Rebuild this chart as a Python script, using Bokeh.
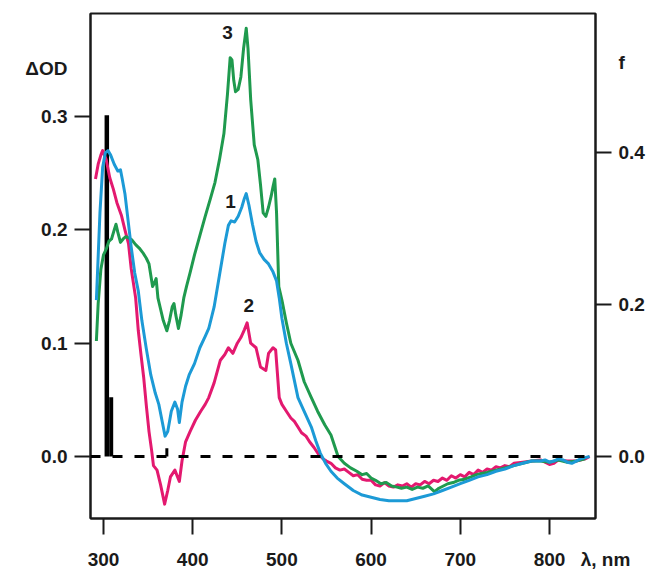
from bokeh.plotting import figure
from bokeh.models import Range1d, LinearAxis, Span, Label, FixedTicker
from bokeh.embed import file_html
from bokeh.resources import INLINE

# ---- data ----
wl_1 = [292, 296, 299, 302, 305, 308, 312, 316, 319, 321, 324, 327, 331, 335, 339, 343, 348, 353, 358,
        362, 366, 369, 372, 376, 380, 383, 385, 388, 392, 396, 402, 408, 414, 418, 424, 430, 436, 440,
        443, 447, 451, 455, 458, 460, 463, 467, 471, 475, 480, 485, 490, 494, 497, 500, 505, 510, 518,
        526, 533, 538, 543, 549, 555, 562, 570, 580, 590, 600, 610, 620, 630, 640, 650, 660, 670, 680,
        690, 700, 710, 720, 730, 740, 750, 760, 770, 780, 790, 795, 800, 805, 810, 815, 820, 825, 830,
        835, 840, 845]
od_1 = [0.138, 0.215, 0.255, 0.268, 0.270, 0.266, 0.258, 0.252, 0.253, 0.245, 0.232, 0.212, 0.185,
        0.162, 0.146, 0.120, 0.095, 0.072, 0.056, 0.046, 0.030, 0.018, 0.022, 0.040, 0.048, 0.042,
        0.030, 0.048, 0.062, 0.072, 0.082, 0.096, 0.106, 0.113, 0.132, 0.160, 0.188, 0.204, 0.208,
        0.207, 0.212, 0.220, 0.228, 0.232, 0.222, 0.205, 0.190, 0.180, 0.174, 0.170, 0.163, 0.155,
        0.140, 0.122, 0.100, 0.082, 0.052, 0.038, 0.026, 0.014, 0.003, -0.006, -0.013, -0.019, -0.024,
        -0.030, -0.034, -0.036, -0.038, -0.039, -0.039, -0.039, -0.037, -0.035, -0.033, -0.030, -0.027,
        -0.024, -0.021, -0.018, -0.016, -0.013, -0.011, -0.008, -0.006, -0.004, -0.004, -0.003, -0.005,
        -0.004, -0.002, -0.003, -0.005, -0.006, -0.004, -0.002, -0.001, 0.000]

wl_2 = [291, 294, 297, 299, 303, 307, 311, 315, 320, 324, 328, 331, 336, 339, 342, 345, 348, 351, 354,
        356, 360, 364, 368.5, 372, 375, 380, 385, 388, 392, 397, 403, 409, 414, 418, 424, 431, 436, 440,
        445, 450, 454, 458, 461, 465, 471, 476, 482, 485, 490, 493, 497, 500, 505, 510, 514, 518, 522,
        527, 531, 536, 541, 546, 550, 555, 560, 565, 570, 575, 580, 585, 590, 595, 600, 605, 610, 615,
        620, 625, 630, 635, 640, 645, 650, 655, 660, 665, 670, 675, 680, 685, 690, 695, 700, 705, 710,
        715, 720, 725, 730, 735, 740, 745, 750, 755, 760, 770, 780, 790, 800, 805, 810, 820, 830, 840,
        845]
od_2 = [0.245, 0.258, 0.266, 0.270, 0.262, 0.246, 0.236, 0.224, 0.213, 0.200, 0.188, 0.166, 0.140,
        0.111, 0.090, 0.070, 0.045, 0.022, 0.005, -0.008, -0.012, -0.025, -0.042, -0.030, -0.018,
        -0.012, -0.022, -0.004, 0.013, 0.022, 0.032, 0.040, 0.046, 0.052, 0.065, 0.085, 0.090, 0.096,
        0.091, 0.100, 0.105, 0.112, 0.118, 0.100, 0.096, 0.079, 0.076, 0.091, 0.096, 0.094, 0.052,
        0.046, 0.040, 0.034, 0.031, 0.026, 0.021, 0.018, 0.013, 0.008, 0.002, -0.002, -0.004, -0.006,
        -0.010, -0.012, -0.011, -0.014, -0.017, -0.016, -0.020, -0.021, -0.021, -0.025, -0.026, -0.023,
        -0.026, -0.027, -0.025, -0.026, -0.024, -0.027, -0.024, -0.025, -0.022, -0.024, -0.021, -0.022,
        -0.019, -0.021, -0.017, -0.019, -0.016, -0.018, -0.014, -0.016, -0.012, -0.014, -0.011, -0.012,
        -0.009, -0.010, -0.008, -0.009, -0.006, -0.005, -0.004, -0.003, -0.007, -0.006, -0.003, -0.004,
        -0.004, -0.002, 0.000]

wl_3 = [292, 294, 297, 300, 303, 306, 309, 312, 314, 316, 319, 322, 325, 328, 332, 336, 340, 344, 348,
        351, 353, 355, 357, 359, 361, 364, 367, 371, 374, 377, 379, 381, 384, 387, 390, 393, 397, 402,
        408, 414, 420, 425, 430, 435, 439, 442, 444, 446, 448, 451, 454, 457, 460, 462, 465, 469, 473,
        476, 479, 482, 485, 488, 490, 492, 494, 496.5, 500, 505, 510, 518, 525, 533, 540, 548, 555, 563,
        570, 577, 584, 590, 595, 600, 605, 611, 617, 623, 629, 634, 640, 646, 652, 658, 664, 671, 676,
        681, 686, 692, 698, 705, 712, 718, 724, 730, 740, 750, 760, 770, 780, 790, 800, 810, 820, 830,
        840]
od_3 = [0.102, 0.135, 0.165, 0.178, 0.183, 0.190, 0.192, 0.200, 0.205, 0.198, 0.189, 0.192, 0.194,
        0.193, 0.191, 0.187, 0.184, 0.180, 0.175, 0.170, 0.160, 0.150, 0.153, 0.157, 0.140, 0.130,
        0.120, 0.111, 0.120, 0.132, 0.135, 0.125, 0.113, 0.125, 0.140, 0.150, 0.162, 0.178, 0.195,
        0.212, 0.228, 0.242, 0.262, 0.285, 0.320, 0.352, 0.350, 0.332, 0.322, 0.324, 0.335, 0.360,
        0.378, 0.360, 0.315, 0.275, 0.262, 0.240, 0.215, 0.212, 0.220, 0.230, 0.238, 0.245, 0.215,
        0.150, 0.138, 0.118, 0.100, 0.085, 0.066, 0.052, 0.040, 0.028, 0.019, 0.000, -0.006, -0.010,
        -0.013, -0.016, -0.015, -0.019, -0.021, -0.024, -0.023, -0.026, -0.027, -0.028, -0.027, -0.029,
        -0.027, -0.028, -0.026, -0.031, -0.028, -0.026, -0.024, -0.023, -0.021, -0.020, -0.018, -0.016,
        -0.015, -0.014, -0.012, -0.010, -0.008, -0.006, -0.004, -0.004, -0.005, -0.003, -0.005, -0.004,
        -0.002]

# oscillator strengths (right axis)
wl_f = [303.7, 308.6, 371.0]
f_val = [0.449, 0.078, 0.011]
f_width = [4.5, 4, 3]

x_ticks = [300, 400, 500, 600, 700, 800]
y_ticks = [0.0, 0.1, 0.2, 0.3]
f_ticks = [0.0, 0.2, 0.4]

# axis titles, drawn as unmarked tick labels at these axis positions
x_title, x_title_at = "\u00a0\u00a0\u00a0\u00a0λ, nm", 851.0
y_title, y_title_at = "ΔOD", 0.3425
f_title, f_title_at = "f", 0.518

FONT = "Liberation Sans"
INK = "#1a1a1a"

p = figure(width=654, height=573, output_backend="svg", toolbar_location=None,
           x_range=Range1d(285.4, 851.6), y_range=Range1d(-0.0547, 0.391),
           min_border_left=90, min_border_right=59, min_border_top=13, min_border_bottom=55)
p.extra_y_ranges = {"f": Range1d(-0.0816, 0.583)}
p.grid.visible = False
p.outline_line_color = INK
p.outline_line_width = 2
p.background_fill_color = "white"
p.border_fill_color = "white"

p.add_layout(LinearAxis(y_range_name="f"), "right")

TICK = 16
for ax in p.axis:
    ax.axis_line_width = 2
    ax.axis_line_color = INK
    # visible tick marks are drawn as "minor" ticks so the title labels get no mark
    ax.major_tick_out = 0
    ax.major_tick_in = 0
    ax.minor_tick_out = TICK
    ax.minor_tick_in = 0
    ax.minor_tick_line_width = 2
    ax.minor_tick_line_color = INK
    ax.major_label_text_font = FONT
    ax.major_label_text_font_style = "bold"
    ax.major_label_text_font_size = "19px"
    ax.major_label_text_color = INK

xa = p.xaxis[0]
xa.ticker = FixedTicker(ticks=x_ticks + [x_title_at], minor_ticks=x_ticks)
xa.major_label_standoff = 14
xa.major_label_overrides = {x_title_at: x_title}

ya = p.yaxis[0]
ya.ticker = FixedTicker(ticks=y_ticks + [y_title_at], minor_ticks=y_ticks)
ya.major_label_standoff = 7
ya.major_label_overrides = {**{v: f"{v:.1f}" for v in y_ticks}, y_title_at: y_title}

fa = p.yaxis[1]
fa.ticker = FixedTicker(ticks=f_ticks + [f_title_at], minor_ticks=f_ticks)
fa.major_label_standoff = 7
fa.major_label_overrides = {**{v: f"{v:.1f}" for v in f_ticks}, f_title_at: f_title}

# zero line
p.add_layout(Span(location=0, dimension="width", line_color="black", line_width=3, line_dash="10 12"))

# oscillator strength bars
for w, f, lw in zip(wl_f, f_val, f_width):
    p.segment(x0=[w], y0=[0], x1=[w], y1=[f], line_color="black", line_width=lw, y_range_name="f")

# spectra
p.line(wl_2, od_2, line_color="#e3196f", line_width=3, line_join="round")
p.line(wl_3, od_3, line_color="#1f9a4e", line_width=3, line_join="round")
p.line(wl_1, od_1, line_color="#1c9ad6", line_width=3, line_join="round")

def lab(x, y, t):
    p.add_layout(Label(x=x, y=y, text=t, text_align="center", text_baseline="middle",
                       text_font=FONT, text_font_style="bold", text_font_size="19px",
                       text_color=INK))

lab(439, 0.3738, "3")
lab(442.4, 0.2255, "1")
lab(463, 0.1337, "2")

open("out.html", "w").write(file_html(p, INLINE))
